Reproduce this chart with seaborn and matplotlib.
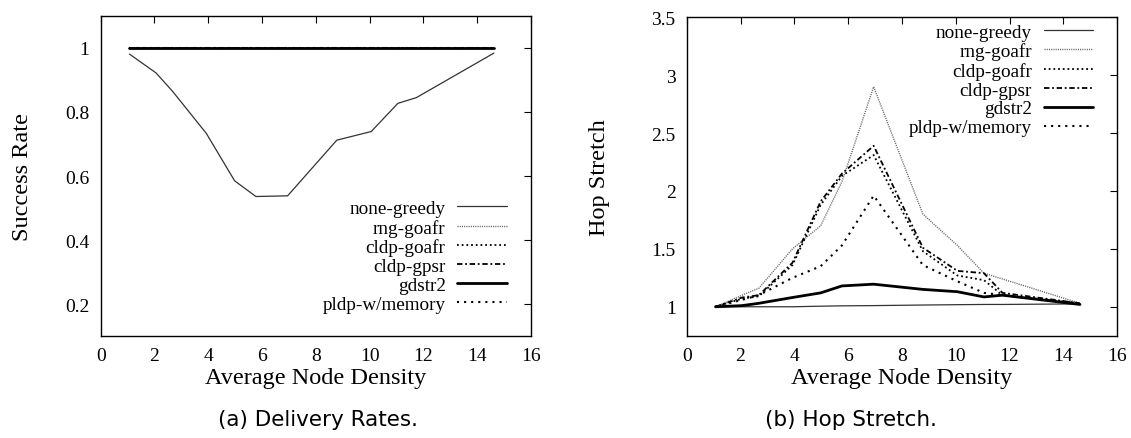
import matplotlib
matplotlib.use("Agg")
import matplotlib.pyplot as plt
import seaborn as sns
import pandas as pd

# ----------------- DATA -----------------
density = [1.07, 2.06, 2.68, 3.93, 4.98, 5.77, 6.95, 8.78, 10.06, 11.05, 11.74, 14.62]

series_names = ["none-greedy", "rng-goafr", "cldp-goafr", "cldp-gpsr", "gdstr2", "pldp-w/memory"]

# (a) delivery rates
rate_none_greedy = [0.981, 0.922, 0.864, 0.733, 0.585, 0.536, 0.538, 0.712, 0.739, 0.827, 0.845, 0.984]
rate_others = [1.0] * 12

# (b) hop stretch
hop_none_greedy = [1.0, 1.0, 1.0, 1.0, 1.005, 1.008, 1.01, 1.015, 1.018, 1.02, 1.02, 1.025]
hop_rng_goafr = [1.0, 1.10, 1.16, 1.50, 1.70, 2.08, 2.90, 1.80, 1.53, 1.29, 1.24, 1.03]
hop_cldp_goafr = [1.0, 1.07, 1.09, 1.36, 1.88, 2.13, 2.31, 1.48, 1.27, 1.23, 1.10, 1.03]
hop_cldp_gpsr = [1.0, 1.08, 1.10, 1.38, 1.91, 2.15, 2.39, 1.51, 1.31, 1.29, 1.12, 1.03]
hop_gdstr2 = [1.0, 1.01, 1.03, 1.08, 1.12, 1.18, 1.195, 1.15, 1.13, 1.085, 1.10, 1.02]
hop_pldp = [1.0, 1.06, 1.10, 1.25, 1.35, 1.53, 1.96, 1.36, 1.22, 1.12, 1.10, 1.03]

x_ticks = [0, 2, 4, 6, 8, 10, 12, 14, 16]
rate_ticks = [0.2, 0.4, 0.6, 0.8, 1.0]
hop_ticks = [1.0, 1.5, 2.0, 2.5, 3.0, 3.5]

# ----------------- STYLE -----------------
sns.set_theme(style="white")
plt.rcParams["font.family"] = ["Liberation Serif", "DejaVu Serif"]
plt.rcParams["text.color"] = "black"
plt.rcParams["axes.labelcolor"] = "black"

line_styles = {
    "none-greedy": dict(color="#333333", linewidth=0.9, linestyle="-"),
    "rng-goafr": dict(color="#666666", linewidth=1.0, linestyle=(0, (0.8, 0.8))),
    "cldp-goafr": dict(color="black", linewidth=1.3, linestyle=(0, (1, 1.6))),
    "cldp-gpsr": dict(color="black", linewidth=1.3, linestyle=(0, (3, 1.5, 1, 1.5))),
    "gdstr2": dict(color="black", linewidth=2.0, linestyle="-"),
    "pldp-w/memory": dict(color="black", linewidth=1.5, linestyle=(0, (1, 2.4))),
}

rates = pd.DataFrame({"density": density, "none-greedy": rate_none_greedy,
                      "rng-goafr": rate_others, "cldp-goafr": rate_others,
                      "cldp-gpsr": rate_others, "gdstr2": rate_others,
                      "pldp-w/memory": rate_others})
hops = pd.DataFrame({"density": density, "none-greedy": hop_none_greedy,
                     "rng-goafr": hop_rng_goafr, "cldp-goafr": hop_cldp_goafr,
                     "cldp-gpsr": hop_cldp_gpsr, "gdstr2": hop_gdstr2,
                     "pldp-w/memory": hop_pldp})

fig = plt.figure(figsize=(11.31, 4.39), dpi=100)
ax1 = fig.add_axes([0.089, 0.2323, 0.3805, 0.729])
ax2 = fig.add_axes([0.6072, 0.2330, 0.3805, 0.7253])


def draw_panel(ax, df, ylim, yticks, ylabel, ylabelpad, legend_anchor):
    for name in series_names:
        sns.lineplot(data=df, x="density", y=name, ax=ax, label=name, **line_styles[name])
    ax.set_xlim(0, 16)
    ax.set_ylim(*ylim)
    ax.set_xticks(x_ticks)
    ax.set_yticks(yticks)
    ax.set_xticklabels([f"{t:g}" for t in x_ticks])
    ax.set_yticklabels([f"{t:g}" for t in yticks])
    ax.tick_params(direction="in", top=True, right=True, length=5, width=0.8,
                   labelsize=14, pad=8, colors="black")
    for s in ax.spines.values():
        s.set_color("black")
        s.set_linewidth(1.0)
    ax.set_xlabel("Average Node Density", fontsize=17.5, labelpad=2)
    ax.set_ylabel(ylabel, fontsize=17.5, labelpad=ylabelpad)
    ax.legend(loc="upper right", bbox_to_anchor=legend_anchor, frameon=False,
              markerfirst=False, fontsize=13.8, handlelength=2.6, handletextpad=0.6,
              labelspacing=0.08, borderpad=0, borderaxespad=0)


draw_panel(ax1, rates, (0.1, 1.1), rate_ticks, "Success Rate", 23, (0.944, 0.426))
draw_panel(ax2, hops, (0.75, 3.5), hop_ticks, "Hop Stretch", 30, (0.945, 0.981))

fig.text(0.281, 0.043, "(a) Delivery Rates.", ha="center", va="center",
         fontsize=15.5, family="DejaVu Sans")
fig.text(0.752, 0.043, "(b) Hop Stretch.", ha="center", va="center",
         fontsize=15.5, family="DejaVu Sans")

fig.savefig("out.png", dpi=100)
